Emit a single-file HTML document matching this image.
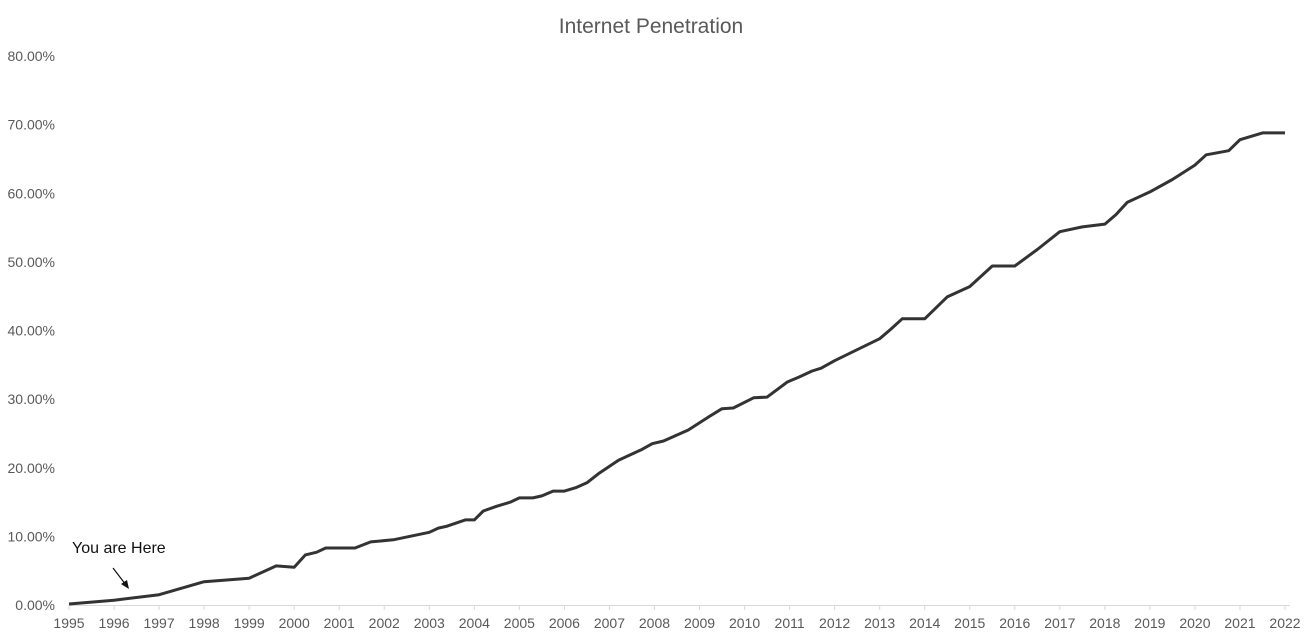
<!DOCTYPE html>
<html><head><meta charset="utf-8"><style>
html,body{margin:0;padding:0;background:#fff;}
svg{display:block;font-family:"Liberation Sans",sans-serif;}
</style></head><body>
<svg id="chart" width="1305" height="635">
<rect x="0" y="0" width="1305" height="635" fill="#fff"/>
<text x="651" y="33" text-anchor="middle" font-size="21" fill="#595959">Internet Penetration</text>
<g id="yaxis"></g>
<g id="xaxis"></g>
<path id="line" fill="none" stroke="#333" stroke-width="3" stroke-linejoin="round"/>
<text x="72" y="553" font-size="16" fill="#111">You are Here</text>
<line x1="113" y1="568" x2="126" y2="585" stroke="#111" stroke-width="1.2"/>
<polygon points="129,589 121,584 127,580" fill="#111"/>
</svg>
<script>
const years=[1995,1996,1997,1998,1999,1999.6,2000,2000.25,2000.5,2000.7,2001.35,2001.7,2002.2,2003,2003.2,2003.4,2003.8,2004,2004.2,2004.5,2004.8,2005,2005.3,2005.5,2005.75,2006,2006.25,2006.5,2006.75,2007.2,2007.5,2007.7,2007.95,2008.2,2008.75,2009.2,2009.5,2009.75,2010.2,2010.5,2010.95,2011.2,2011.5,2011.7,2012,2013,2013.25,2013.5,2014,2014.5,2015,2015.5,2016,2016.5,2017,2017.5,2018,2018.25,2018.5,2019,2019.5,2020,2020.25,2020.75,2021,2021.5,2022];
const values=[0.15,0.7,1.5,3.4,3.9,5.7,5.5,7.3,7.7,8.3,8.3,9.2,9.5,10.6,11.2,11.5,12.4,12.4,13.7,14.4,15.0,15.6,15.6,15.9,16.6,16.6,17.1,17.8,19.1,21.1,22.0,22.6,23.5,23.9,25.5,27.4,28.6,28.7,30.2,30.3,32.5,33.2,34.1,34.5,35.6,38.8,40.2,41.7,41.7,44.9,46.4,49.4,49.4,51.8,54.4,55.1,55.5,56.9,58.7,60.2,62.0,64.1,65.6,66.2,67.8,68.8,68.8];
const yTicks=[0,10,20,30,40,50,60,70,80];
const xTicks=[1995,1996,1997,1998,1999,2000,2001,2002,2003,2004,2005,2006,2007,2008,2009,2010,2011,2012,2013,2014,2015,2016,2017,2018,2019,2020,2021,2022];
const NS="http://www.w3.org/2000/svg";
const X=v=>69+(v-1995)*(1285-69)/27;
const Y=v=>605-v*(605-56)/80;
const ya=document.getElementById('yaxis'),xa=document.getElementById('xaxis');
yTicks.forEach(t=>{
 const tx=document.createElementNS(NS,'text');
 
 
 tx.setAttribute('x',55);tx.setAttribute('y',Y(t)+5);
 tx.setAttribute('text-anchor','end');tx.setAttribute('font-size','14');tx.setAttribute('fill','#595959');
 tx.textContent=t.toFixed(2)+'%';ya.appendChild(tx);
});
const ax=document.createElementNS(NS,'line');


ax.setAttribute('x1',X(1995));ax.setAttribute('x2',1290);ax.setAttribute('y1',605.5);ax.setAttribute('y2',605.5);
ax.setAttribute('stroke','#d9d9d9');xa.appendChild(ax);
xTicks.forEach(t=>{
 const l=document.createElementNS(NS,'line');
 
 
 l.setAttribute('x1',X(t));l.setAttribute('x2',X(t));l.setAttribute('y1',605);l.setAttribute('y2',610);
 l.setAttribute('stroke','#d9d9d9');xa.appendChild(l);
 const tx=document.createElementNS(NS,'text');
 
 
 tx.setAttribute('x',X(t));tx.setAttribute('y',628);
 tx.setAttribute('text-anchor','middle');tx.setAttribute('font-size','14');tx.setAttribute('fill','#595959');
 tx.textContent=t;xa.appendChild(tx);
});
document.getElementById('line').setAttribute('d',years.map((y,i)=>(i?'L':'M')+X(y).toFixed(1)+','+Y(values[i]).toFixed(1)).join(''));
</script>
</body></html>
